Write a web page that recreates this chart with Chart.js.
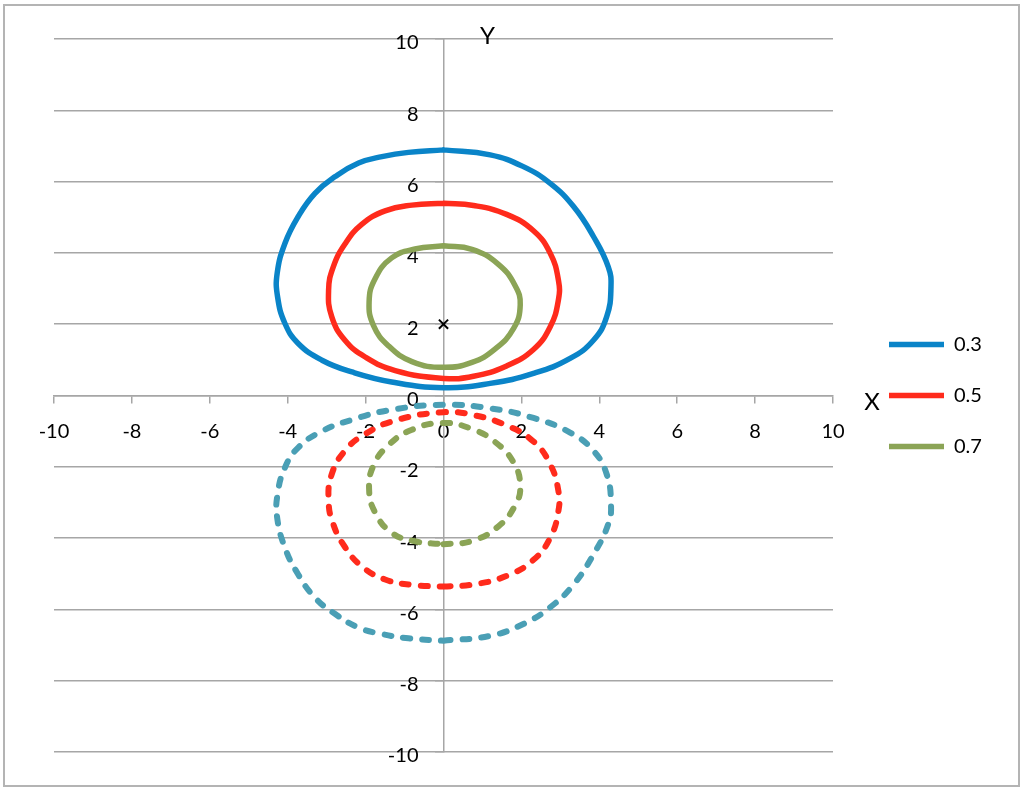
<!DOCTYPE html>
<html>
<head>
<meta charset="utf-8">
<title>Courbes</title>
<script src="https://cdn.jsdelivr.net/npm/chart.js@4.4.0/dist/chart.umd.min.js"></script>
<style>
  html, body { margin: 0; padding: 0; background: #fff; }
  #frame { position: absolute; left: 3px; top: 4px; width: 1013px; height: 779px; border: 2px solid #b4b4b4; }
  #ChartCurves { position: absolute; left: 0; top: 0; }
</style>
</head>
<body>
<div id="frame"></div>
<canvas id="ChartCurves" width="1024" height="791"></canvas>
<script>
// legend labels and axis ticks
const levels = ['0.3', '0.5', '0.7'];
const tickValues = [-10, -8, -6, -4, -2, 0, 2, 4, 6, 8, 10];

// solid curves (above the X axis), read clockwise from the top
const curve03X = [0, 1.2, 2.05, 2.74, 3.34, 3.85, 4.23, 4.3, 4.19, 3.85, 3.25, 2.31, 1.2, 0, -1.33, -2.35, -3.12, -3.73, -4.07, -4.26, -4.27, -4.07, -3.73, -3.3, -2.78, -2.18, -1.58, -0.9, 0];
const curve03Y = [6.89, 6.75, 6.42, 5.95, 5.3, 4.46, 3.61, 3.05, 2.21, 1.55, 1.04, 0.62, 0.34, 0.22, 0.38, 0.66, 0.99, 1.46, 2.02, 2.77, 3.43, 4.27, 5.02, 5.67, 6.14, 6.52, 6.7, 6.82, 6.89];
const curve05X = [0, 0.77, 1.62, 2.31, 2.74, 2.95, 2.95, 2.74, 2.31, 1.62, 0.77, 0, -1.24, -2.01, -2.53, -2.87, -2.95, -2.83, -2.53, -2.1, -1.5, -0.81, 0];
const curve05Y = [5.39, 5.33, 5.08, 4.62, 3.99, 3.24, 2.68, 1.93, 1.29, 0.83, 0.54, 0.48, 0.7, 1.08, 1.55, 2.21, 2.96, 3.61, 4.25, 4.8, 5.18, 5.34, 5.39];
const curve07X = [0, 0.73, 1.41, 1.84, 1.97, 1.8, 1.32, 0.73, 0, -0.81, -1.41, -1.8, -1.91, -1.76, -1.33, -0.73, 0];
const curve07Y = [4.2, 4.1, 3.68, 3.08, 2.54, 1.88, 1.3, 0.93, 0.79, 0.95, 1.39, 1.97, 2.63, 3.27, 3.86, 4.11, 4.2];

// dashed curves (below the X axis)
const mirror03X = [0, 1.2, 2.05, 2.74, 3.34, 3.85, 4.23, 4.3, 4.19, 3.85, 3.25, 2.31, 1.2, 0, -1.33, -2.35, -3.12, -3.73, -4.07, -4.26, -4.27, -4.07, -3.73, -3.3, -2.78, -2.18, -1.58, -0.9, 0];
const mirror03Y = [-6.88, -6.74, -6.41, -5.94, -5.3, -4.46, -3.61, -3.05, -2.21, -1.55, -1.04, -0.63, -0.36, -0.26, -0.4, -0.68, -1.0, -1.46, -2.02, -2.77, -3.43, -4.27, -5.02, -5.67, -6.13, -6.51, -6.69, -6.81, -6.88];
const mirror05X = [0, 0.77, 1.62, 2.31, 2.74, 2.95, 2.95, 2.74, 2.31, 1.62, 0.77, 0, -1.24, -2.01, -2.53, -2.87, -2.95, -2.83, -2.53, -2.1, -1.5, -0.81, 0];
const mirror05Y = [-5.36, -5.3, -5.06, -4.61, -3.99, -3.24, -2.68, -1.93, -1.29, -0.84, -0.55, -0.47, -0.7, -1.08, -1.55, -2.21, -2.96, -3.61, -4.25, -4.79, -5.16, -5.31, -5.36];
const mirror07X = [0, 0.73, 1.41, 1.84, 1.97, 1.8, 1.32, 0.73, 0, -0.81, -1.41, -1.8, -1.91, -1.76, -1.33, -0.73, 0];
const mirror07Y = [-4.17, -4.08, -3.67, -3.08, -2.54, -1.88, -1.3, -0.94, -0.77, -0.96, -1.39, -1.97, -2.63, -3.27, -3.85, -4.09, -4.17];

// point marked with a cross
const centerX = [0];
const centerY = [2];

const colors = ['#0a84c8', '#ff2b1c', '#8ba456'];
const dashColors = ['#4a9fb5', '#ff2b1c', '#8ba456'];

function points(xs, ys) {
    return xs.map((x, i) => ({ x: x, y: ys[i] }));
}

function curve(label, xs, ys, color, dashed) {
    return {
        label: label,
        data: points(xs, ys),
        showLine: true,
        borderColor: color,
        backgroundColor: color,
        borderWidth: dashed ? 6 : 5.5,
        borderCapStyle: 'round',
        borderJoinStyle: 'round',
        borderDash: dashed ? [7, 12] : [],
        pointRadius: 0,
        tension: 0.45,
        fill: false
    };
}

document.addEventListener('DOMContentLoaded', function() {

    Chart.defaults.font.family = "Lato, 'Open Sans', sans-serif";
    Chart.defaults.color = '#000';

    // push the legend a bit further right of the plot area
    const legendShift = {
        id: 'legendShift',
        afterLayout(chart) {
            chart.legend.left += 25;
            chart.legend.right += 25;
        }
    };

    const axisTitles = {
        id: 'axisTitles',
        afterDraw(chart) {
            const { ctx, chartArea, scales } = chart;
            const y0 = scales.y.getPixelForValue(0);
            const x0 = scales.x.getPixelForValue(0);
            ctx.save();
            ctx.font = "24px Lato, 'Open Sans', sans-serif";
            ctx.fillStyle = '#000';
            ctx.textAlign = 'center';
            ctx.textBaseline = 'middle';
            ctx.fillText('X', chartArea.right + 39, y0 + 7);
            ctx.fillText('Y', x0 + 44, chartArea.top - 3);
            ctx.restore();
        }
    };

    const ctx = document.getElementById('ChartCurves').getContext('2d');

    const chartCurves = new Chart(ctx, {
        type: 'scatter',
        data: {
            datasets: [
                curve(levels[0], curve03X, curve03Y, colors[0], false),
                curve(levels[1], curve05X, curve05Y, colors[1], false),
                curve(levels[2], curve07X, curve07Y, colors[2], false),
                curve(levels[0] + ' bis', mirror03X, mirror03Y, dashColors[0], true),
                curve(levels[1] + ' bis', mirror05X, mirror05Y, dashColors[1], true),
                curve(levels[2] + ' bis', mirror07X, mirror07Y, dashColors[2], true),
                {
                    label: 'centre',
                    data: points(centerX, centerY),
                    pointStyle: 'crossRot',
                    pointRadius: 6.5,
                    pointBorderWidth: 2,
                    borderColor: '#000',
                    backgroundColor: '#000'
                }
            ]
        },
        options: {
            responsive: false,
            animation: false,
            layout: { padding: { left: 54, top: 39, bottom: 39, right: 61 } },
            scales: {
                x: {
                    type: 'linear',
                    position: { y: 0 },
                    min: -10,
                    max: 10,
                    afterBuildTicks: axis => { axis.ticks = tickValues.map(v => ({ value: v })); },
                    grid: { drawOnChartArea: false, tickLength: 7, color: '#a6a6a6', lineWidth: 1.5 },
                    border: { color: '#a6a6a6', width: 1.5 },
                    ticks: { font: { size: 20 }, padding: 17, maxRotation: 0, autoSkip: false }
                },
                y: {
                    type: 'linear',
                    position: { x: 0 },
                    min: -10,
                    max: 10,
                    afterBuildTicks: axis => { axis.ticks = tickValues.map(v => ({ value: v })); },
                    grid: { color: '#a6a6a6', lineWidth: 1.5, tickLength: 8 },
                    border: { color: '#a6a6a6', width: 1.5 },
                    ticks: {
                        font: { size: 20 },
                        labelOffset: 4,
                        autoSkip: false,
                        // keep the labels clear of the axis line
                        callback: v => v + '\u2003\u2002'
                    }
                }
            },
            plugins: {
                tooltip: { enabled: false },
                legend: {
                    position: 'right',
                    maxWidth: 130,
                    labels: {
                        usePointStyle: true,
                        pointStyle: 'line',
                        pointStyleWidth: 55,
                        padding: 31,
                        font: { size: 20 },
                        filter: item => item.datasetIndex < 3
                    }
                }
            }
        },
        plugins: [legendShift, axisTitles]
    });
});
</script>
</body>
</html>
